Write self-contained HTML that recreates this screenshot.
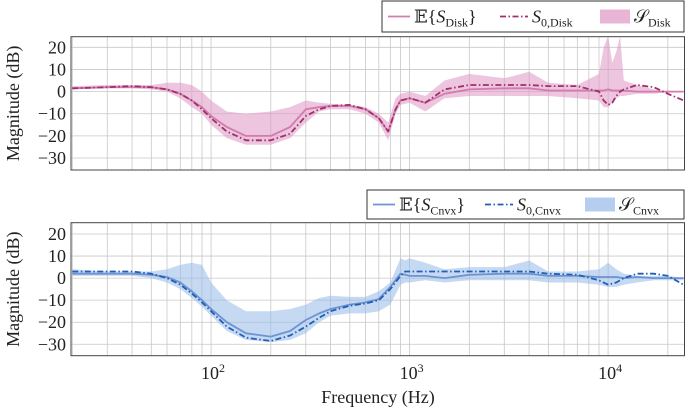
<!DOCTYPE html>
<html><head><meta charset="utf-8">
<style>
html,body{margin:0;padding:0;background:#fff;}
svg{display:block;font-family:"Liberation Serif","DejaVu Serif",serif;}
</style></head>
<body>
<svg id="chart" width="685" height="409" viewBox="0 0 685 409"></svg>
<script>
// ---- data: Disk (top panel) ----
const freqDisk = [20,30,40,50,60,70,80,90,100,120,150,200,250,300,350,400,500,600,700,780,850,900,1000,1200,1500,2000,3000,4000,5000,7000,9000,9500,10000,10500,11000,11500,12000,14000,17000,20000,24000];
const meanDisk = [1.5,2,2,2,1,-1,-4,-7,-11,-16,-20,-20,-16,-8,-7,-6.5,-6.5,-8,-12,-18,-8,-4,-3,-5,-1,1,1.5,1.5,0.5,0.5,0.5,0.5,1,0.5,0.5,0.5,0.5,0,0,0,0];
const s0Disk = [1.5,2,2.5,2,1,-1,-4,-8,-12,-18,-22,-22,-19,-11,-8,-6.5,-6,-8,-12,-18,-8,-4,-3,-5,1,3,3,3,2.5,2.5,0,-4,-6,-5,-2,0,1,3,2,-1,-4];
const upperDisk = [2.5,3,3,3,4,4,3,0,-4,-9,-10,-9,-7,-4,-5,-5.5,-6,-7,-10,-14,-3,-1,0,-2,5,8,6,9,4,3,8,20,25,13,18,25,5,3,1,0,0];
const lowerDisk = [1,1.5,1.5,1,0,-3,-7,-10,-15,-21,-24,-24,-21,-14,-9,-8,-8,-10,-14,-22,-10,-6,-5,-9,-3,-2,-2,-2,-2,-3,-4,-7,-7,-5,-3,-2,-2,-1,-1,0,0];
// ---- data: Cnvx (bottom panel) ----
const freqCnvx = [20,30,40,50,60,70,80,90,100,120,150,200,250,300,350,400,500,600,700,800,900,950,1000,1200,1500,2000,3000,4000,5000,7000,9000,10000,11000,12000,14000,17000,20000,24000];
const meanCnvx = [2,2,2,1.5,0.5,-2,-6,-10,-14,-20,-25,-26.5,-24,-19,-16,-14,-12,-11,-9.5,-4,2,1.5,1,1,0,1.5,2,2,1,1,0.5,0.5,0.5,0,0.5,0,0,0];
const s0Cnvx = [3,3,3,2,0,-3,-7,-11,-15,-22,-27,-28.5,-26,-22,-18,-15,-12.5,-11.5,-10,-5,1,3,3,3,3,3,3,3,2,1.5,-1,-3,-2,0,2,2,1,-3];
const upperCnvx = [4,3,3,3,4,6,7,6,-2,-10,-15,-15,-14,-12,-9,-8,-8.5,-8.5,-6,-2,9,8,9,7,4,5,5,8,3,3,4,7,4,2,1,1,1,0];
const lowerCnvx = [1,1,1,0,-2,-5,-9,-13,-17,-24,-28,-29,-28,-25,-20,-17,-16,-16,-15,-12,-3,-2,-2,-1,-2,-1,-1,-1,-2,-2,-3,-4,-4,-3,-2,-1,-1,-1];
const yTicks = [20,10,0,-10,-20,-30];
const xDecades = [2,3,4];

const NS="http://www.w3.org/2000/svg";
const svg=document.getElementById('chart');
function mk(tag,attrs,parent){const e=document.createElementNS(NS,tag);for(const k in attrs)e.setAttribute(k,attrs[k]);(parent||svg).appendChild(e);return e;}
const X0=71,X1=685,FMIN=19.7,FMAX=24400;
function xs(f){return X0+(Math.log10(f)-Math.log10(FMIN))/(Math.log10(FMAX)-Math.log10(FMIN))*(X1-X0);}

function panel(name,top,bottom,zeroY,slope,freq,mean,s0,up,lo,lineCol,dashCol,fillCol){
  const ys=v=>zeroY-v*slope;
  const g=mk('g',{});
  
  
  const cp=mk('clipPath',{id:'cp-'+name},g);mk('rect',{x:X0,y:top,width:X1-X0,height:bottom-top},cp);
  for(let d=1;d<5;d++)for(let m=1;m<10;m++){const f=m*Math.pow(10,d);if(f<FMIN||f>FMAX)continue;
    const l=mk('line',{x1:xs(f),x2:xs(f),y1:top,y2:bottom,stroke:'#c8c8c8','stroke-width':0.8},g);
    }
  yTicks.forEach(v=>{const l=mk('line',{x1:X0,x2:X1,y1:ys(v),y2:ys(v),stroke:'#c8c8c8','stroke-width':0.8},g);
    
    const t=mk('text',{x:X0-5,y:ys(v)+6,'text-anchor':'end','font-size':18,fill:'#222'},g);
    t.textContent=(v<0?'\u2212'+(-v):''+v);
    });
  const cg=mk('g',{'clip-path':'url(#cp-'+name+')'},g);
  let d='';freq.forEach((f,i)=>{d+=(i?'L':'M')+xs(f).toFixed(1)+' '+ys(up[i]).toFixed(1);});
  for(let i=freq.length-1;i>=0;i--)d+='L'+xs(freq[i]).toFixed(1)+' '+ys(lo[i]).toFixed(1);
  const band=mk('path',{d:d+'Z',fill:fillCol,stroke:'none'},cg);
  
  const line=(arr,col,dash,w)=>{let p='';freq.forEach((f,i)=>{p+=(i?'L':'M')+xs(f).toFixed(1)+' '+ys(arr[i]).toFixed(1);});
    const e=mk('path',{d:p,fill:'none',stroke:col,'stroke-width':w,'stroke-dasharray':dash,'stroke-linejoin':'round'},cg);return e;};
  const mline=line(mean,lineCol,'none',1.8);
  
  const sline=line(s0,dashCol,'6 2.5 1.5 2.5',1.8);
  
  const fr=mk('rect',{x:X0,y:top,width:X1-X0-0.5,height:bottom-top,fill:'none',stroke:'#444','stroke-width':1},g);
  
  const at=mk('text',{transform:'translate(19,'+((top+bottom)/2)+') rotate(-90)','text-anchor':'middle','font-size':18,fill:'#222'},g);
  at.textContent='Magnitude (dB)';
  
  return ys;
}
panel('disk',36.7,170,91.6,2.214,freqDisk,meanDisk,s0Disk,upperDisk,lowerDisk,'#d27bac','#a02f6c','rgba(222,150,196,0.55)');
panel('cnvx',222.7,355.7,278.1,2.206,freqCnvx,meanCnvx,s0Cnvx,upperCnvx,lowerCnvx,'#6e93d2','#1f5fb8','rgba(150,185,232,0.55)');

xDecades.forEach(k=>{const t=mk('text',{x:xs(Math.pow(10,k))+2,y:379,'text-anchor':'middle','font-size':18,fill:'#222'});
  t.textContent='10';const s=mk('tspan',{dy:-7,'font-size':12},t);s.textContent=''+k;
  });
const xt=mk('text',{x:378,y:403,'text-anchor':'middle','font-size':18,fill:'#222'});
xt.textContent='Frequency (Hz)';


function legend(name,x,y,w,h,sub,lineCol,dashCol,fillCol){
  const g=mk('g',{});
  
  mk('rect',{x:x,y:y,width:w,height:h,fill:'#fff',stroke:'#333','stroke-width':1},g);
  const cy=y+h/2;
  mk('line',{x1:x+6,x2:x+28,y1:cy,y2:cy,stroke:lineCol,'stroke-width':1.8},g);
  let t=mk('text',{x:x+32,y:cy+6,'font-size':18,fill:'#222'},g);
  t.innerHTML='𝔼{<tspan font-style="italic">S</tspan><tspan dy="4" font-size="12">'+sub+'</tspan><tspan dy="-4">}</tspan>';
  
  mk('line',{x1:x+118,x2:x+146,y1:cy,y2:cy,stroke:dashCol,'stroke-width':1.8,'stroke-dasharray':'6 2.5 1.5 2.5'},g);
  t=mk('text',{x:x+150,y:cy+6,'font-size':18,fill:'#222'},g);
  t.innerHTML='<tspan font-style="italic">S</tspan><tspan dy="4" font-size="12">0,'+sub+'</tspan>';
  
  mk('rect',{x:x+218,y:cy-7,width:30,height:14,fill:fillCol},g);
  t=mk('text',{x:x+252,y:cy+6,'font-size':18,fill:'#222'},g);
  t.innerHTML='𝒮<tspan dy="4" font-size="12">'+sub+'</tspan>';
  
}
legend('disk',382,1,302,31,'Disk','#d27bac','#a02f6c','rgba(222,150,196,0.7)');
legend('cnvx',367,190,317,29,'Cnvx','#6e93d2','#1f5fb8','rgba(150,185,232,0.7)');
</script>
</body></html>
